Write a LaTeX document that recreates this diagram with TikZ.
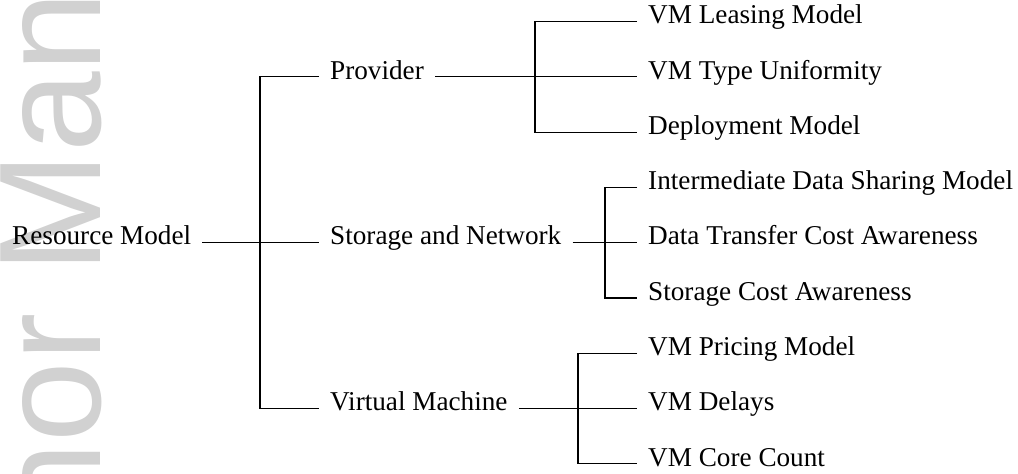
\documentclass[tikz,border=0pt]{standalone}
\usepackage{fontspec}
\setmainfont{Liberation Serif}
\newfontfamily\wmfont{Liberation Sans}
\begin{document}
\begin{tikzpicture}[x=1pt,y=1pt,
  label/.style={anchor=mid west, inner xsep=11pt, inner ysep=0pt,
    font=\fontsize{27.2}{32}\selectfont},
  link/.style={line width=1.1pt, black}]
\useasboundingbox (0,0) rectangle (1018,474);

% faint vertical watermark along the left margin, cut by the page edge
\begin{scope}
  \clip (0,0) rectangle (1018,474);
  \node[rotate=90, anchor=base west, inner sep=0pt, text=black!18,
        font=\wmfont\fontsize{145}{150}\selectfont] (wm) at (100,-267) {Author Manuscript};
\end{scope}

% row heights (top to bottom)
\def\ra{452.5}\def\rb{397.2}\def\rc{341.9}
\def\rd{286.6}\def\re{231.3}\def\rf{176.0}
\def\rg{120.7}\def\rh{65.4}\def\ri{10.1}

% root
\node[label] (rm) at (1,\re) {Resource Model};

% second level
\node[label] (pr) at (319,\rb) {Provider};
\node[label] (sn) at (319,\re) {Storage and Network};
\node[label] (vm) at (319,\rh) {Virtual Machine};

% leaves
\node[label] (p1) at (637,\ra) {VM Leasing Model};
\node[label] (p2) at (637,\rb) {VM Type Uniformity};
\node[label] (p3) at (637,\rc) {Deployment Model};
\node[label] (s1) at (637,\rd) {Intermediate Data Sharing Model};
\node[label] (s2) at (637,\re) {Data Transfer Cost Awareness};
\node[label] (s3) at (637,\rf) {Storage Cost Awareness};
\node[label] (v1) at (637,\rg) {VM Pricing Model};
\node[label] (v2) at (637,\rh) {VM Delays};
\node[label] (v3) at (637,\ri) {VM Core Count};

% branch points
\coordinate (j0) at (260,\re);
\coordinate (jp) at (535,\rb);
\coordinate (js) at (605,\re);
\coordinate (jv) at (578,\rh);

% root bracket
\draw[link] (rm.mid east) -- (j0) -- (sn.mid west);
\draw[link] (pr.mid west) -| (j0) |- (vm.mid west);

% provider bracket
\draw[link] (pr.mid east) -- (jp) -- (p2.mid west);
\draw[link] (p1.mid west) -| (jp) |- (p3.mid west);

% storage bracket
\draw[link] (sn.mid east) -- (js) -- (s2.mid west);
\draw[link] (s1.mid west) -| (js) |- (s3.mid west);

% virtual machine bracket
\draw[link] (vm.mid east) -- (jv) -- (v2.mid west);
\draw[link] (v1.mid west) -| (jv) |- (v3.mid west);
\end{tikzpicture}
\end{document}
